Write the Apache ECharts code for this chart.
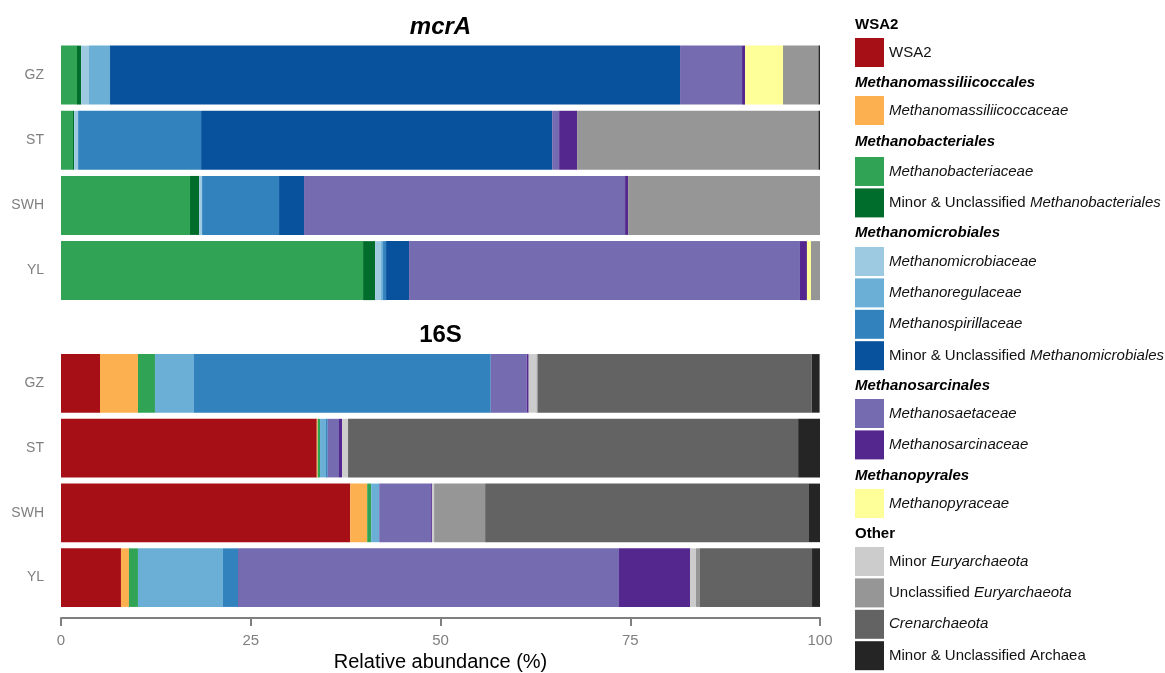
<!DOCTYPE html>
<html>
<head>
<meta charset="utf-8">
<script src="https://cdn.jsdelivr.net/npm/echarts@6/dist/echarts.min.js"></script>
<style>
  html, body { margin: 0; padding: 0; background: #fff; }
  #chart { width: 1165px; height: 673px; }
</style>
</head>
<body>
<div id="chart"></div>
<script>
const samples = ['GZ', 'ST', 'SWH', 'YL']

const taxa = [
  'WSA2',
  'Methanomassiliicoccaceae',
  'Methanobacteriaceae',
  'Minor & Unclassified Methanobacteriales',
  'Methanomicrobiaceae',
  'Methanoregulaceae',
  'Methanospirillaceae',
  'Minor & Unclassified Methanomicrobiales',
  'Methanosaetaceae',
  'Methanosarcinaceae',
  'Methanopyraceae',
  'Minor Euryarchaeota',
  'Unclassified Euryarchaeota',
  'Crenarchaeota',
  'Minor & Unclassified Archaea',
]

const colors = [
  '#a50f15', '#fdb04f', '#31a354', '#006d2c', '#9ecae1', '#6baed6', '#3182bd',
  '#08519c', '#756bb1', '#54278f', '#ffff99', '#cccccc', '#969696', '#636363', '#252525',
]

// relative abundance (%) per sample, in the order of taxa
const mcrA_GZ  = [0, 0, 2.11, 0.53, 1.05, 2.77, 0, 75.1, 8.17, 0.4, 5.0, 0, 4.67, 0, 0.2]
const mcrA_ST  = [0, 0, 1.58, 0.15, 0.53, 0, 16.2, 46.25, 0.92, 2.37, 0, 0, 31.8, 0, 0.2]
const mcrA_SWH = [0, 0, 17.0, 1.19, 0.4, 0, 10.14, 3.29, 42.3, 0.4, 0, 0, 25.3, 0, 0]
const mcrA_YL  = [0, 0, 39.8, 1.58, 0.79, 0.26, 0.4, 3.03, 51.5, 0.92, 0.53, 0, 1.2, 0, 0]

const s16_GZ  = [5.14, 5.0, 2.24, 0, 0, 5.14, 39.1, 0, 4.74, 0.26, 0, 1.05, 0.13, 36.1, 1.05]
const s16_ST  = [33.7, 0.13, 0.3, 0, 0, 0.79, 0.22, 0, 1.49, 0.4, 0, 0.79, 0, 59.3, 2.88]
const s16_SWH = [38.1, 2.24, 0.53, 0, 0, 1.05, 0, 0, 6.85, 0.13, 0, 0.26, 6.72, 42.67, 1.45]
const s16_YL  = [7.9, 1.05, 1.19, 0, 0, 11.2, 1.98, 0, 50.2, 9.35, 0, 0.79, 0.53, 14.76, 1.05]

const xTicks = [0, 25, 50, 75, 100]

const mcrA = [mcrA_GZ, mcrA_ST, mcrA_SWH, mcrA_YL]
const s16 = [s16_GZ, s16_ST, s16_SWH, s16_YL]

// legend groups: heading, italic heading?, members, heading centre y, first item top
const groups = [
  { head: 'WSA2', it: false, names: ['WSA2'], hy: 25, top: 38 },
  { head: 'Methanomassiliicoccales', it: true, names: ['Methanomassiliicoccaceae'], hy: 83, top: 96 },
  { head: 'Methanobacteriales', it: true, names: ['Methanobacteriaceae', 'Minor & Unclassified Methanobacteriales'], hy: 142, top: 157 },
  { head: 'Methanomicrobiales', it: true, names: ['Methanomicrobiaceae', 'Methanoregulaceae', 'Methanospirillaceae', 'Minor & Unclassified Methanomicrobiales'], hy: 233, top: 247 },
  { head: 'Methanosarcinales', it: true, names: ['Methanosaetaceae', 'Methanosarcinaceae'], hy: 386, top: 399 },
  { head: 'Methanopyrales', it: true, names: ['Methanopyraceae'], hy: 476, top: 489 },
  { head: 'Other', it: false, names: ['Minor Euryarchaeota', 'Unclassified Euryarchaeota', 'Crenarchaeota', 'Minor & Unclassified Archaea'], hy: 534, top: 547 },
]

const legendText = {
  'WSA2': 'WSA2',
  'Minor & Unclassified Methanobacteriales': 'Minor & Unclassified {i|Methanobacteriales}',
  'Minor & Unclassified Methanomicrobiales': 'Minor & Unclassified {i|Methanomicrobiales}',
  'Minor Euryarchaeota': 'Minor {i|Euryarchaeota}',
  'Unclassified Euryarchaeota': 'Unclassified {i|Euryarchaeota}',
  'Minor & Unclassified Archaea': 'Minor & Unclassified Archaea',
}

const FONT = '"Liberation Sans", Arial, sans-serif'
const gray = '#7f7f7f'

const chart = echarts.init(document.getElementById('chart'))

const series = []
taxa.forEach((name, i) => {
  series.push({
    name, type: 'bar', stack: 'mcrA', xAxisIndex: 0, yAxisIndex: 0,
    barCategoryGap: '9.5%',
    itemStyle: { color: colors[i] },
    data: mcrA.map((row) => row[i]),
  })
  series.push({
    name, type: 'bar', stack: '16S', xAxisIndex: 1, yAxisIndex: 1,
    barCategoryGap: '9.5%',
    itemStyle: { color: colors[i] },
    data: s16.map((row) => row[i]),
  })
})

const legends = groups.map((g) => ({
  orient: 'vertical',
  left: 855,
  top: g.top,
  padding: 0,
  itemWidth: 29,
  itemHeight: 29,
  itemGap: 2.4,
  icon: 'rect',
  selectedMode: false,
  data: g.names,
  formatter: (name) => legendText[name] || '{i|' + name + '}',
  textStyle: {
    fontFamily: FONT,
    fontSize: 15,
    color: '#111',
    rich: { i: { fontFamily: FONT, fontSize: 15, fontStyle: 'italic', color: '#111' } },
  },
}))

const headings = groups.map((g) => ({
  type: 'text',
  x: 855,
  y: g.hy,
  style: {
    text: g.head,
    font: (g.it ? 'italic ' : '') + 'bold 15px ' + FONT,
    fill: '#000',
    verticalAlign: 'middle',
  },
}))

const yAxisCommon = {
  type: 'category',
  data: samples,
  inverse: true,
  axisLine: { show: false },
  axisTick: { show: false },
  axisLabel: { color: gray, fontSize: 14, fontFamily: FONT, margin: 17 },
}

chart.setOption({
  animation: false,
  textStyle: { fontFamily: FONT },
  title: [
    { text: 'mcrA', left: 440.5, top: 15, padding: 0, textAlign: 'center',
      textStyle: { fontSize: 24, fontWeight: 'bold', fontStyle: 'italic', color: '#000', fontFamily: FONT } },
    { text: '16S', left: 440.5, top: 323, padding: 0, textAlign: 'center',
      textStyle: { fontSize: 24, fontWeight: 'bold', color: '#000', fontFamily: FONT } },
  ],
  grid: [
    { left: 61, right: 345, top: 42.5, height: 260.7 },
    { left: 61, right: 345, top: 351, height: 261.2 },
  ],
  xAxis: [
    { gridIndex: 0, type: 'value', min: 0, max: 100, show: false },
    {
      gridIndex: 1, type: 'value', min: 0, max: 100, interval: 25, offset: 8,
      splitLine: { show: false },
      axisLine: { show: true, lineStyle: { color: gray, width: 2 } },
      axisTick: { show: true, length: 8, lineStyle: { color: gray, width: 2 } },
      axisLabel: { color: gray, fontSize: 15, fontFamily: FONT, margin: 15,
        customValues: xTicks },
      name: 'Relative abundance (%)',
      nameLocation: 'middle',
      nameGap: 34,
      nameTextStyle: { color: '#000', fontSize: 20, fontFamily: FONT },
    },
  ],
  yAxis: [
    Object.assign({ gridIndex: 0 }, yAxisCommon),
    Object.assign({ gridIndex: 1 }, yAxisCommon),
  ],
  legend: legends,
  graphic: headings,
  series,
})
</script>
</body>
</html>
